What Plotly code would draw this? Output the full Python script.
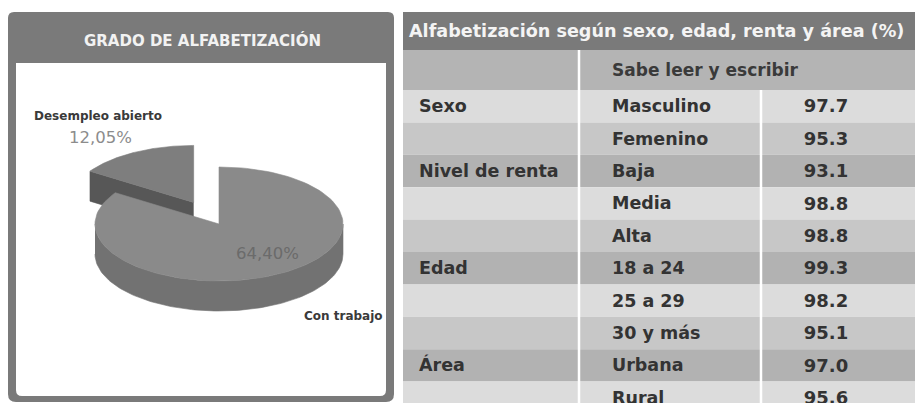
import numpy as np
import plotly.graph_objects as go

# ---------------- data ----------------
pie_labels = ["Con trabajo", "Desempleo abierto"]
pie_values = [64.40, 12.05]

groups = ["Sexo", "Nivel de renta", "Edad", "Área"]
group_sizes = [2, 3, 3, 2]
categories = ["Masculino", "Femenino", "Baja", "Media", "Alta",
              "18 a 24", "25 a 29", "30 y más", "Urbana", "Rural"]
literacy = [97.7, 95.3, 93.1, 98.8, 98.8, 99.3, 98.2, 95.1, 97.0, 95.6]

left_title = "GRADO DE ALFABETIZACIÓN"
table_title = "Alfabetización según sexo, edad, renta y área (%)"
column_header = "Sabe leer y escribir"

# ---------------- style / layout constants ----------------
W, H = 915, 403
FONT = "DejaVu Sans"
PANEL_GREY = "#7a7a7a"
TXT = "#333333"

# pie geometry (pseudo 3D ellipse)
CX, CY, RX, RY, DEPTH, EXPLODE = 219, 224, 124, 57, 30, 0.43
BIG_TOP, BIG_SIDE, SMALL_TOP, SMALL_FACE = "#8a8a8a", "#727272", "#7e7e7e", "#575757"

# table geometry
TX0, C1, C2, TX1 = 403, 579, 761, 915
TITLE_Y0, HEAD_Y0, ROW0, ROWH = 12, 50, 90, 32.4
ROW_FILLS = ["#dcdcdc", "#c7c7c7", "#b2b2b2"]
HEAD_FILL = "#b4b4b4"

fig = go.Figure()
shapes = []
annotations = []

# ---------------- left panel frame ----------------
def rounded(x0, y0, x1, y1, r_top, r_bot):
    return (f"M {x0+r_top},{y0} L {x1-r_top},{y0} Q {x1},{y0} {x1},{y0+r_top} "
            f"L {x1},{y1-r_bot} Q {x1},{y1} {x1-r_bot},{y1} L {x0+r_bot},{y1} "
            f"Q {x0},{y1} {x0},{y1-r_bot} L {x0},{y0+r_top} Q {x0},{y0} {x0+r_top},{y0} Z")

shapes.append(dict(type="path", xref="x", yref="y", path=rounded(8, 12, 394, 402, 6, 8),
                   fillcolor=PANEL_GREY, line=dict(width=0), layer="below"))
shapes.append(dict(type="path", xref="x", yref="y", path=rounded(16, 63, 386, 396, 0, 6),
                   fillcolor="white", line=dict(width=0), layer="below"))
annotations.append(dict(x=202, y=40, xref="x", yref="y", text=f"<b>{left_title}</b>",
                        showarrow=False, font=dict(family=FONT, size=15, color="#f2f2f2"),
                        xanchor="center", yanchor="middle"))

# ---------------- pie from values ----------------
total = sum(pie_values)
big_span = 360.0 * pie_values[0] / total
a_big0, a_big1 = 90.0 - big_span, 90.0          # big slice: clockwise from 12 o'clock
a_sm0, a_sm1 = 90.0, 90.0 - big_span + 360.0     # small slice: the rest
bis = np.radians((a_sm0 + a_sm1) / 2)
ox, oy = EXPLODE * RX * np.cos(bis), -EXPLODE * RY * np.sin(bis)

def arc(a0, a1, cx, cy, dz=0.0, n=120):
    t = np.radians(np.linspace(a0, a1, n))
    return cx + RX * np.cos(t), cy - RY * np.sin(t) + dz

def poly(xs, ys, color):
    fig.add_trace(go.Scatter(x=list(xs), y=list(ys), mode="lines", fill="toself",
                             fillcolor=color, line=dict(color=color, width=0.6),
                             hoverinfo="skip", showlegend=False))

# small (exploded) slice: front radial face then top
scx, scy = CX + ox, CY + oy
ex, ey = arc(a_sm1, a_sm1, scx, scy, n=1)
poly([scx, ex[0], ex[0], scx], [scy, ey[0], ey[0] + DEPTH, scy + DEPTH], SMALL_FACE)
xs, ys = arc(a_sm0, a_sm1, scx, scy)
poly(np.r_[scx, xs, scx], np.r_[scy, ys, scy], SMALL_TOP)

# big slice: visible outer wall (front half) then top
wx0, wy0 = arc(-180, 0, CX, CY)
wx1, wy1 = arc(0, -180, CX, CY, dz=DEPTH)
poly(np.r_[wx0, wx1], np.r_[wy0, wy1], BIG_SIDE)
xs, ys = arc(a_big0, a_big1, CX, CY)
poly(np.r_[CX, xs, CX], np.r_[CY, ys, CY], BIG_TOP)

def pct(v):
    return f"{v:.2f}".replace(".", ",") + "%"

annotations += [
    dict(x=32, y=116, text=f"<b>{pie_labels[1]}</b>", xanchor="left",
         font=dict(family=FONT, size=12, color="#3a3a3a")),
    dict(x=100, y=137, text=pct(pie_values[1]), xanchor="center",
         font=dict(family=FONT, size=16.5, color="#8c8c8c")),
    dict(x=267, y=253, text=pct(pie_values[0]), xanchor="center",
         font=dict(family=FONT, size=16.5, color="#6b6b6b")),
    dict(x=302, y=316, text=f"<b>{pie_labels[0]}</b>", xanchor="left",
         font=dict(family=FONT, size=12, color="#3a3a3a")),
]
for a in annotations[-4:]:
    a.update(xref="x", yref="y", showarrow=False, yanchor="middle")

# ---------------- table ----------------
n_rows = len(categories)
bottom = ROW0 + n_rows * ROWH
shapes.append(dict(type="rect", xref="x", yref="y", x0=TX0, x1=TX1, y0=TITLE_Y0, y1=HEAD_Y0,
                   fillcolor=PANEL_GREY, line=dict(width=0), layer="below"))
shapes.append(dict(type="rect", xref="x", yref="y", x0=TX0, x1=TX1, y0=HEAD_Y0, y1=ROW0,
                   fillcolor=HEAD_FILL, line=dict(width=0), layer="below"))
for i in range(n_rows):
    shapes.append(dict(type="rect", xref="x", yref="y", x0=TX0, x1=TX1,
                       y0=ROW0 + i * ROWH, y1=ROW0 + (i + 1) * ROWH,
                       fillcolor=ROW_FILLS[i % 3], line=dict(width=0), layer="below"))
shapes.append(dict(type="line", xref="x", yref="y", x0=C1, x1=C1, y0=HEAD_Y0, y1=bottom,
                   line=dict(color="white", width=2.5), layer="below"))
shapes.append(dict(type="line", xref="x", yref="y", x0=C2, x1=C2, y0=ROW0, y1=bottom,
                   line=dict(color="white", width=2.5), layer="below"))

annotations.append(dict(x=407, y=31, xref="x", yref="y", text=f"<b>{table_title}</b>",
                        showarrow=False, xanchor="left", yanchor="middle",
                        font=dict(family=FONT, size=17.6, color="#f4f4f4")))

row_y = [ROW0 + (i + 0.55) * ROWH for i in range(n_rows)]
starts = np.r_[0, np.cumsum(group_sizes)[:-1]]
cell_font = dict(family=FONT, size=17.5, color=TXT)

fig.add_trace(go.Scatter(x=[C1 + 33], y=[(HEAD_Y0 + ROW0) / 2 + 2], mode="text",
                         text=[f"<b>{column_header}</b>"], textposition="middle right",
                         textfont=dict(family=FONT, size=17, color="#3a3a3a"),
                         hoverinfo="skip", showlegend=False))
fig.add_trace(go.Scatter(x=[TX0 + 16] * len(groups), y=[row_y[s] for s in starts], mode="text",
                         text=[f"<b>{g}</b>" for g in groups], textposition="middle right",
                         textfont=cell_font, hoverinfo="skip", showlegend=False))
fig.add_trace(go.Scatter(x=[C1 + 33] * n_rows, y=row_y, mode="text",
                         text=[f"<b>{c}</b>" for c in categories], textposition="middle right",
                         textfont=cell_font, hoverinfo="skip", showlegend=False))
fig.add_trace(go.Scatter(x=[826] * n_rows, y=row_y, mode="text",
                         text=[f"<b>{v:.1f}</b>" for v in literacy], textposition="middle center",
                         textfont=dict(family=FONT, size=18, color=TXT),
                         hoverinfo="skip", showlegend=False))

fig.update_layout(
    width=W, height=H, margin=dict(l=0, r=0, t=0, b=0),
    paper_bgcolor="white", plot_bgcolor="white", showlegend=False,
    xaxis=dict(range=[0, W], visible=False, fixedrange=True),
    yaxis=dict(range=[H, 0], visible=False, fixedrange=True),
    shapes=shapes, annotations=annotations,
)
fig.write_html("out.html", config={"displayModeBar": False},
               post_script="document.body.style.margin='0';document.body.style.overflow='hidden';")
